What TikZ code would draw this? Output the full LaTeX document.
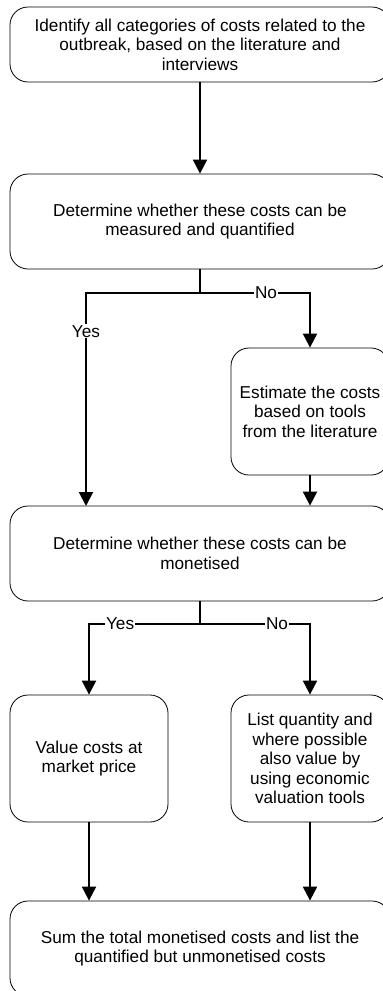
\documentclass[tikz,border=0pt]{standalone}
\usepackage{fontspec}
\setmainfont{Liberation Sans}
\usetikzlibrary{arrows.meta}
\begin{document}
\begin{tikzpicture}[x=1pt,y=-1pt,
    box/.style={draw,line width=0.8pt,rounded corners=18pt,align=center,inner sep=0pt,
      font=\fontsize{17.2}{19.6}\selectfont},
    flow/.style={line width=2pt,-{Triangle[length=14pt,width=14pt]}},
    lbl/.style={fill=white,inner sep=1pt,font=\fontsize{17.2}{19.6}\selectfont}]
  \useasboundingbox (0,0) rectangle (383,991);
  \node[box,minimum width=380pt,minimum height=75pt] (ident) at (200,44.5)
    {Identify all categories of costs related to the\\outbreak, based on the literature and\\interviews};
  \node[box,minimum width=380pt,minimum height=95pt] (quant) at (200,221.5)
    {Determine whether these costs can be\\measured and quantified};
  \node[box,minimum width=158pt,minimum height=127pt] (est) at (310,411.5)
    {Estimate the costs\\based on tools\\from the literature};
  \node[box,minimum width=380pt,minimum height=95pt] (monet) at (200,553.5)
    {Determine whether these costs can be\\monetised};
  \node[box,minimum width=158pt,minimum height=127pt] (market) at (89,758.5)
    {Value costs at\\market price};
  \node[box,minimum width=158pt,minimum height=127pt] (list) at (310,758.5)
    {List quantity and\\where possible\\also value by\\using economic\\valuation tools};
  \node[box,minimum width=380pt,minimum height=95pt] (sum) at (200,948.5)
    {Sum the total monetised costs and list the\\quantified but unmonetised costs};
  \coordinate (fork1) at (200,293);               % first split
  \coordinate (yesin) at (86,506);                % end of the yes line
  \coordinate (fork2) at (200,624);               % second split
  \draw[flow] (ident) -- (quant);
  \draw[line width=2pt] (quant) -- (fork1);
  \draw[flow] (fork1) -| node[lbl,pos=0.59] {Yes} (yesin);
  \draw[flow] (fork1) -| node[lbl,pos=0.3] {No} (est);
  \draw[flow] (est) -- (est |- monet.north);
  \draw[line width=2pt] (monet) -- (fork2);
  \draw[flow] (fork2) -| node[lbl,pos=0.36] {Yes} (market);
  \draw[flow] (fork2) -| node[lbl,pos=0.35] {No} (list);
  \draw[flow] (market) -- (market |- sum.north);  % left into the sum
  \draw[flow] (list) -- (list |- sum.north);      % right into the sum
\end{tikzpicture}
\end{document}
